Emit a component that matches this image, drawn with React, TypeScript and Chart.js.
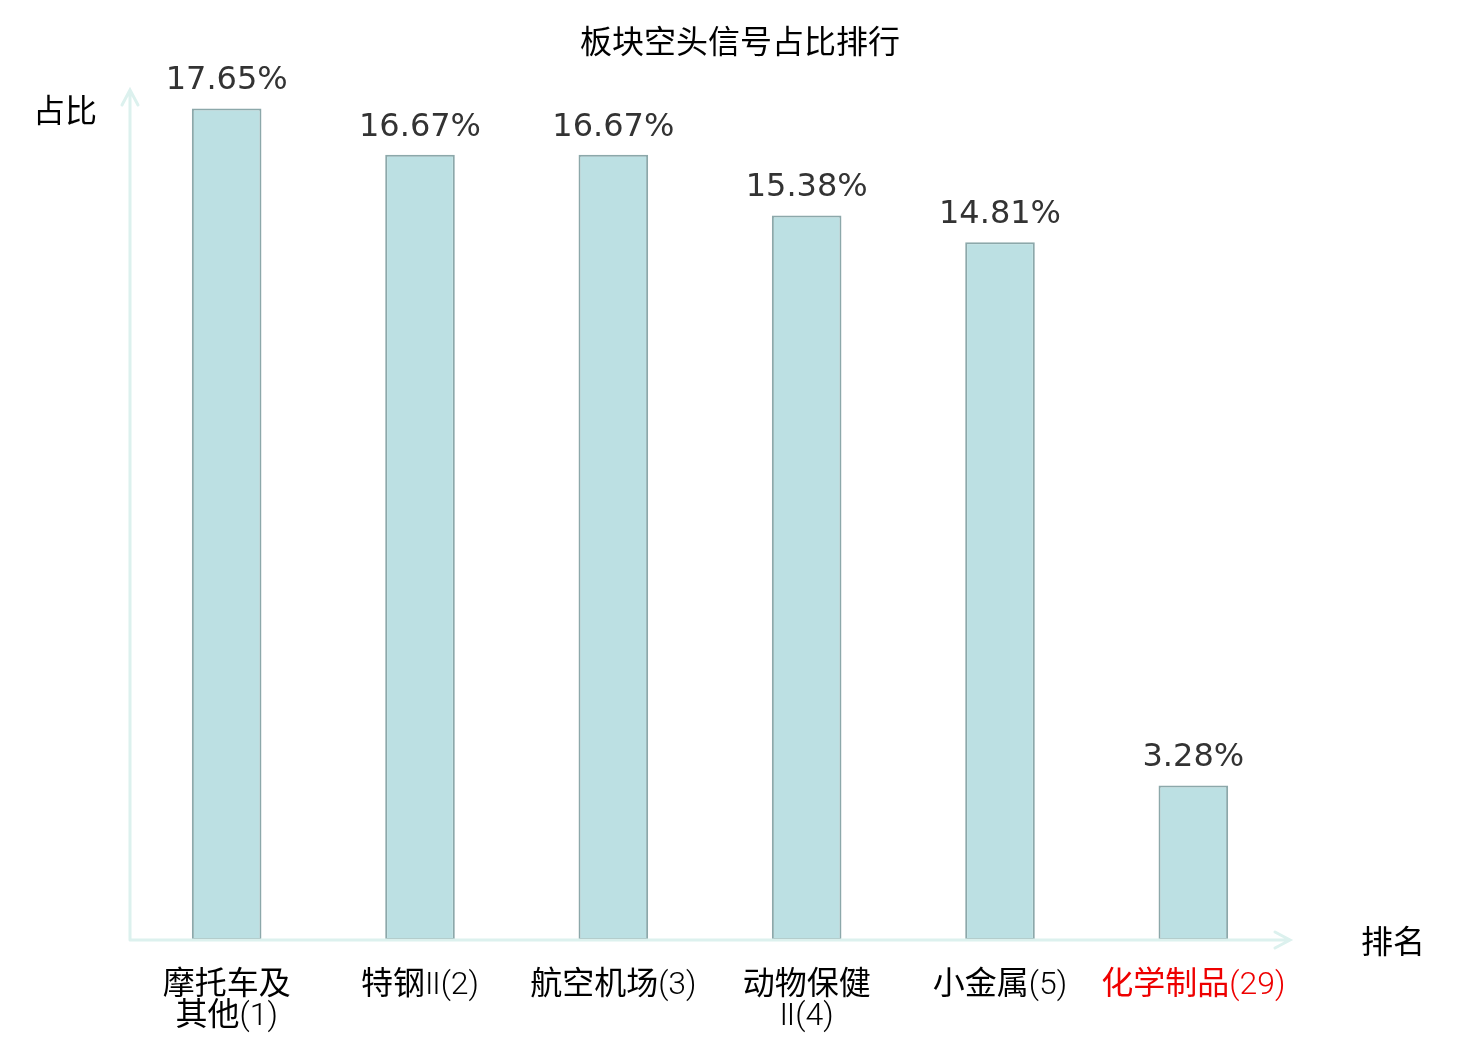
import React, { useEffect, useRef } from 'react';
import Chart from 'chart.js/auto';

const TITLE = '板块空头信号占比排行';
const Y_NAME = '占比';
const X_NAME = '排名';
const categories: (string | string[])[] = [
  ['摩托车及', '其他(1)'],
  '特钢Ⅱ(2)',
  '航空机场(3)',
  ['动物保健', 'Ⅱ(4)'],
  '小金属(5)',
  '化学制品(29)',
];
const ratios = [17.65, 16.67, 16.67, 15.38, 14.81, 3.28];
const highlightIndex = 5;

const AXIS_COLOR = '#dcf1ee';
const CJK = '"Roboto Light", "Noto Sans CJK SC", "DejaVu Sans", sans-serif';

const decorPlugin = {
  id: 'decor',
  afterDraw(chart: any) {
    const { ctx, chartArea } = chart;
    const { left, right, top, bottom } = chartArea;
    ctx.save();

    // axes with arrow heads
    ctx.strokeStyle = AXIS_COLOR;
    ctx.lineWidth = 3;
    ctx.lineCap = 'round';
    ctx.beginPath();
    ctx.moveTo(left, bottom);
    ctx.lineTo(left, top - 2);
    ctx.moveTo(left - 8, top + 13);
    ctx.lineTo(left, top - 2);
    ctx.lineTo(left + 8, top + 13);
    ctx.moveTo(left, bottom);
    ctx.lineTo(right, bottom);
    ctx.moveTo(right - 15, bottom - 8);
    ctx.lineTo(right, bottom);
    ctx.lineTo(right - 15, bottom + 8);
    ctx.stroke();

    // value labels above bars
    const meta = chart.getDatasetMeta(0);
    ctx.fillStyle = '#333333';
    ctx.font = '32px "DejaVu Sans", sans-serif';
    ctx.textAlign = 'center';
    ctx.textBaseline = 'alphabetic';
    meta.data.forEach((bar: any, i: number) => {
      ctx.fillText(ratios[i].toFixed(2) + '%', bar.x, bar.y - 19);
    });

    // title and axis names
    ctx.fillStyle = '#000000';
    ctx.font = '32px ' + CJK;
    ctx.textBaseline = 'middle';
    ctx.fillText(TITLE, 740, 44);
    ctx.textAlign = 'left';
    ctx.fillText(Y_NAME, 33, 113);
    ctx.fillText(X_NAME, 1361, 944);
    ctx.restore();
  },
};

const App: React.FC = () => {
  const chartRef = useRef<HTMLCanvasElement>(null);
  const chartInstance = useRef<Chart | null>(null);

  useEffect(() => {
    document.body.style.margin = '0';
    if (chartRef.current) {
      if (chartInstance.current) {
        chartInstance.current.destroy();
      }
      const ctx = chartRef.current.getContext('2d');
      if (ctx) {
        chartInstance.current = new Chart(ctx, {
          type: 'bar',
          data: {
            labels: categories,
            datasets: [
              {
                label: Y_NAME,
                data: ratios,
                backgroundColor: '#bce0e3',
                borderColor: '#8ca8aa',
                borderWidth: 2,
                borderSkipped: false,
                barPercentage: 0.36,
                categoryPercentage: 1,
              },
            ],
          },
          options: {
            animation: false,
            responsive: true,
            maintainAspectRatio: false,
            layout: {
              padding: { left: 130, right: 190, top: 92, bottom: 0 },
            },
            plugins: {
              legend: { display: false },
              title: { display: false },
              tooltip: { enabled: false },
            },
            scales: {
              y: {
                display: false,
                min: 0,
                max: 18,
              },
              x: {
                grid: { display: false },
                border: { display: false },
                afterFit: (scale: any) => {
                  scale.height = 100;
                },
                ticks: {
                  padding: 21,
                  maxRotation: 0,
                  autoSkip: false,
                  font: { size: 32, family: CJK, lineHeight: 0.97 },
                  color: (c: any) => (c.index === highlightIndex ? '#ee0000' : '#000000'),
                },
              },
            },
          },
          plugins: [decorPlugin],
        });
      }
    }
    return () => {
      if (chartInstance.current) {
        chartInstance.current.destroy();
        chartInstance.current = null;
      }
    };
  }, []);

  return (
    <div style={{ width: '1480px', height: '1040px', background: '#ffffff' }}>
      <canvas ref={chartRef}></canvas>
    </div>
  );
};

export default App;
